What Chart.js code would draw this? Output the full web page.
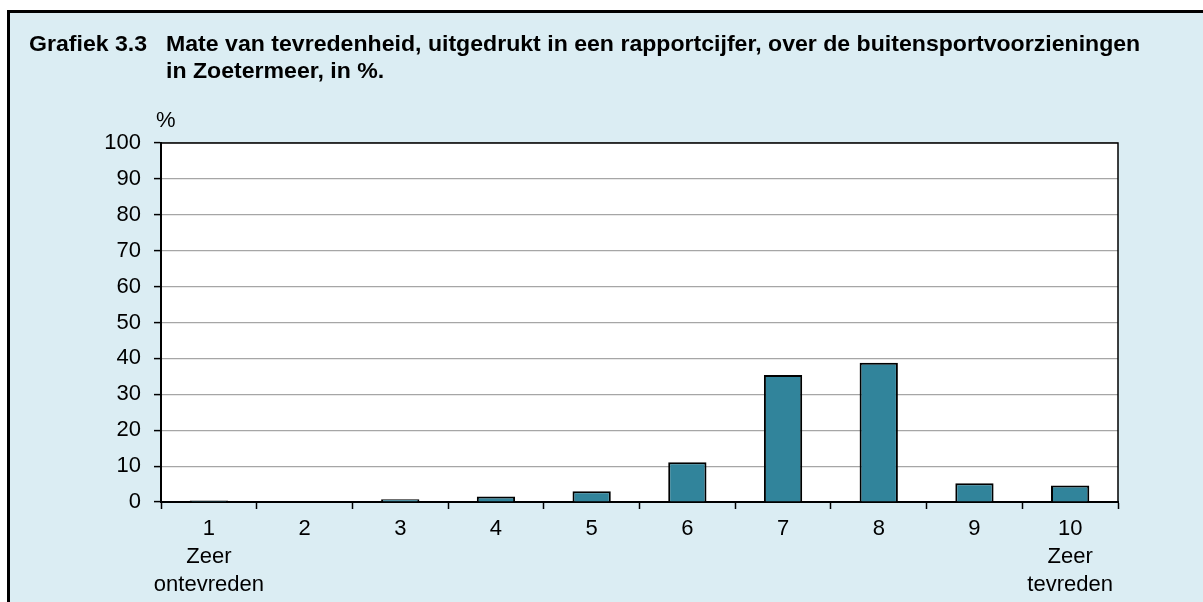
<!DOCTYPE html>
<html>
<head>
<meta charset="utf-8">
<script src="https://cdn.jsdelivr.net/npm/chart.js@4.4.1/dist/chart.umd.min.js"></script>
<style>
  html, body { margin: 0; padding: 0; background: #fff; }
  #wrap { width: 1203px; height: 602px; }
</style>
</head>
<body>
<div id="wrap"><canvas id="grafiek" width="1203" height="602"></canvas></div>
<script>
// rapportcijfers 1 t/m 10
const cijfers = [['1', 'Zeer', 'ontevreden'], ['2'], ['3'], ['4'], ['5'], ['6'], ['7'], ['8'], ['9'], ['10', 'Zeer', 'tevreden']];
// aandeel per cijfer, in %
const percentages = [0.4, 0, 0.8, 1.5, 3.0, 11.1, 35.4, 38.8, 5.2, 4.6];
const yMin = 0, yMax = 100, yStap = 10;

const titelNummer = 'Grafiek 3.3';
const titelRegels = [
    'Mate van tevredenheid, uitgedrukt in een rapportcijfer, over de buitensportvoorzieningen',
    'in Zoetermeer, in %.'
];
const eenheid = '%';

const lettertype = '"Liberation Sans", Arial, sans-serif';

// tekst iets breder zetten, zoals in het origineel
function tekstBreed(ctx, tekst, x, y, sx) {
    ctx.save();
    ctx.translate(x, y);
    ctx.scale(sx, 1);
    ctx.fillText(tekst, 0, 0);
    ctx.restore();
}

// achtergrond, kader, titel en rand om het plotgebied
const kader = {
    id: 'kader',
    beforeDraw(chart) {
        const { ctx, chartArea: a, width, height } = chart;
        ctx.save();
        ctx.fillStyle = '#fff';
        ctx.fillRect(0, 0, width, height);
        ctx.fillStyle = '#DBEDF3';
        ctx.fillRect(9, 11, width, height);
        ctx.strokeStyle = '#000';
        ctx.lineWidth = 3;
        ctx.beginPath();
        ctx.moveTo(8.5, height);
        ctx.lineTo(8.5, 11.5);
        ctx.lineTo(width, 11.5);
        ctx.stroke();
        ctx.fillStyle = '#fff';
        ctx.fillRect(a.left, a.top, a.right - a.left, a.bottom - a.top);
        ctx.restore();
    },
    afterDraw(chart) {
        const { ctx, chartArea: a } = chart;
        ctx.save();
        ctx.strokeStyle = '#000';
        ctx.lineWidth = 1.5;
        ctx.beginPath();
        ctx.moveTo(a.left, a.top);
        ctx.lineTo(a.right, a.top);
        ctx.lineTo(a.right, a.bottom);
        ctx.stroke();

        ctx.fillStyle = '#000';
        ctx.textBaseline = 'alphabetic';
        ctx.font = 'bold 22px ' + lettertype;
        tekstBreed(ctx, titelNummer, 29, 51, 1.05);
        tekstBreed(ctx, titelRegels[0], 166, 51, 1.05);
        tekstBreed(ctx, titelRegels[1], 166, 78, 1.05);

        ctx.font = '22px ' + lettertype;
        ctx.textBaseline = 'middle';
        ctx.fillText(eenheid, 156, 121);
        ctx.restore();
    }
};

new Chart(document.getElementById('grafiek'), {
    type: 'bar',
    data: {
        labels: cijfers,
        datasets: [{
            data: percentages,
            backgroundColor: '#31849B',
            borderColor: '#000',
            borderWidth: 2,
            categoryPercentage: 1,
            barPercentage: 0.4
        }]
    },
    options: {
        responsive: false,
        animation: false,
        layout: { padding: { left: 101, right: 85, top: 143, bottom: 0 } },
        plugins: {
            legend: { display: false },
            tooltip: { enabled: false }
        },
        scales: {
            x: {
                afterFit: s => { s.height = 100; },
                grid: { offset: true, drawOnChartArea: false, tickColor: '#000', tickLength: 7, tickWidth: 1.5 },
                border: { color: '#000', width: 2 },
                ticks: {
                    color: '#000',
                    padding: 6,
                    maxRotation: 0,
                    autoSkip: false,
                    font: { family: lettertype, size: 22, lineHeight: 1.27 }
                }
            },
            y: {
                min: yMin,
                max: yMax,
                afterFit: s => { s.width = 60; },
                grid: { color: '#A6A6A6', lineWidth: 1.2, tickColor: '#000', tickLength: 7, tickWidth: 1.5 },
                border: { color: '#000', width: 2 },
                ticks: {
                    stepSize: yStap,
                    color: '#000',
                    padding: 13,
                    font: { family: lettertype, size: 22 }
                }
            }
        }
    },
    plugins: [kader]
});
</script>
</body>
</html>
